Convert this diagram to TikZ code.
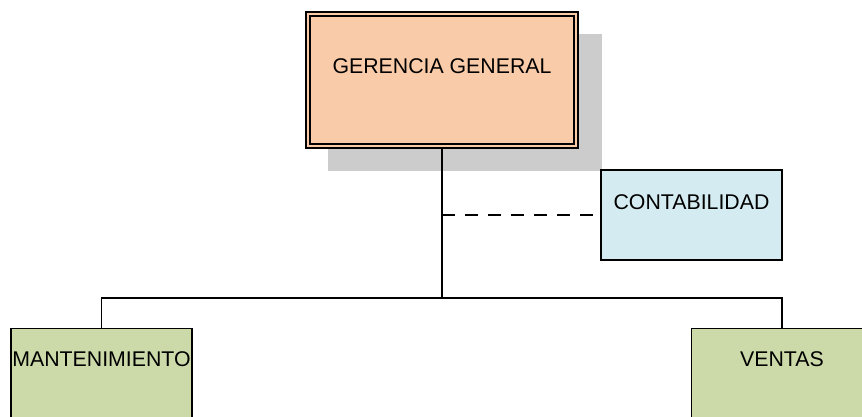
\documentclass[tikz,border=0pt]{standalone}
\usepackage{fontspec}
\setmainfont{Liberation Sans}
\definecolor{ggfill}{HTML}{FACBA8}
\definecolor{contfill}{HTML}{D3EBF1}
\definecolor{unitfill}{HTML}{CCDAA9}
\definecolor{shadowgray}{HTML}{CCCCCC}
\begin{document}
\begin{tikzpicture}[x=1pt,y=-1pt,
  box/.style={draw=black, line width=1.4pt, rectangle, inner sep=0pt},
  txt/.style={font=\fontsize{21.3}{25}\selectfont, inner sep=0pt},
  link/.style={draw=black, line width=1.4pt},
  dashlink/.style={draw=black, line width=1.4pt, dash pattern=on 13pt off 10pt}]
  \useasboundingbox (0,0) rectangle (862,417);
  \clip (0,0) rectangle (862,417);
  % drop shadow of the top box
  \fill[shadowgray] (328,34) rectangle (602,171);
  % top box with double frame
  \node[box, fill=ggfill, minimum width=272, minimum height=136] (gg) at (442,80) {};
  \node[box, line width=1.2pt, minimum width=264, minimum height=128] (ggin) at (gg.center) {};
  \node[txt] (ggtxt) at (442,66) {GERENCIA GENERAL};
  % staff unit
  \node[box, fill=contfill, minimum width=181, minimum height=90] (cont) at (691.5,215) {};
  \node[txt] (conttxt) at (691.5,202) {CONTABILIDAD};
  % line units
  \node[box, fill=unitfill, minimum width=181, minimum height=140, anchor=north] (mant) at (101.5,328) {};
  \node[txt] (manttxt) at (101.5,359) {MANTENIMIENTO};
  \node[box, fill=unitfill, minimum width=181, minimum height=140, anchor=north] (vent) at (782,328) {};
  \node[txt] (venttxt) at (782,359) {VENTAS};
  % connectors
  \coordinate (jn) at (442,298);
  \draw[link] (gg.south) -- (jn);
  \draw[link] (jn) -| (mant.north);
  \draw[link] (jn) -| (vent.north);
  \draw[dashlink] (gg.south |- cont.west) -- (cont.west);
\end{tikzpicture}
\end{document}
